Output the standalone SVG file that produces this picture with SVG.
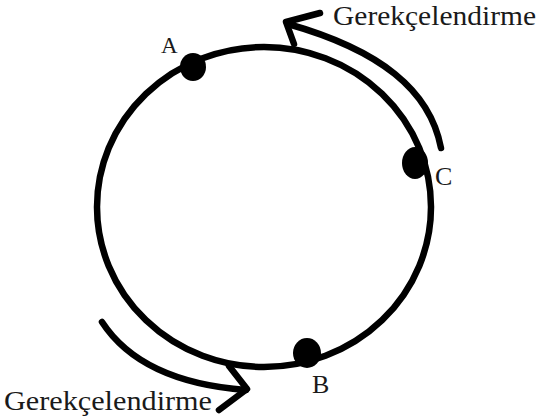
<svg xmlns="http://www.w3.org/2000/svg" width="537" height="420" viewBox="0 0 537 420">
<style>
.ln{fill:none;stroke:#000;stroke-width:6.5;stroke-linecap:round;stroke-linejoin:round}
.t{font-family:"Liberation Serif","Times New Roman",serif;fill:#1a1a1a}
</style>
<rect width="537" height="420" fill="#fff"/>
<g id="cycle"><ellipse cx="264" cy="207" rx="167" ry="160" class="ln"/></g>
<g id="A"><ellipse cx="193" cy="67" rx="13" ry="14"/><text class="t" x="161" y="53" font-size="23">A</text></g>
<g id="C"><ellipse cx="415" cy="163" rx="13" ry="16"/><text class="t" x="435" y="185" font-size="26">C</text></g>
<g id="B"><ellipse cx="307" cy="353" rx="14" ry="15"/><text class="t" x="312" y="393" font-size="26">B</text></g>
<g id="connectors">
<path class="ln" d="M441 148 C430 90 380 50 288 24"/>
<path class="ln" d="M320 13 L286 22 L294 44"/>
<path class="ln" d="M102 322 C130 365 180 385 246 390"/>
<path class="ln" d="M229 366 L247 389 L219 410"/>
</g>
<text class="t" x="333" y="25" font-size="27" textLength="203" lengthAdjust="spacingAndGlyphs">Gerekçelendirme</text>
<text class="t" x="4" y="410" font-size="27" textLength="208" lengthAdjust="spacingAndGlyphs">Gerekçelendirme</text>
</svg>
